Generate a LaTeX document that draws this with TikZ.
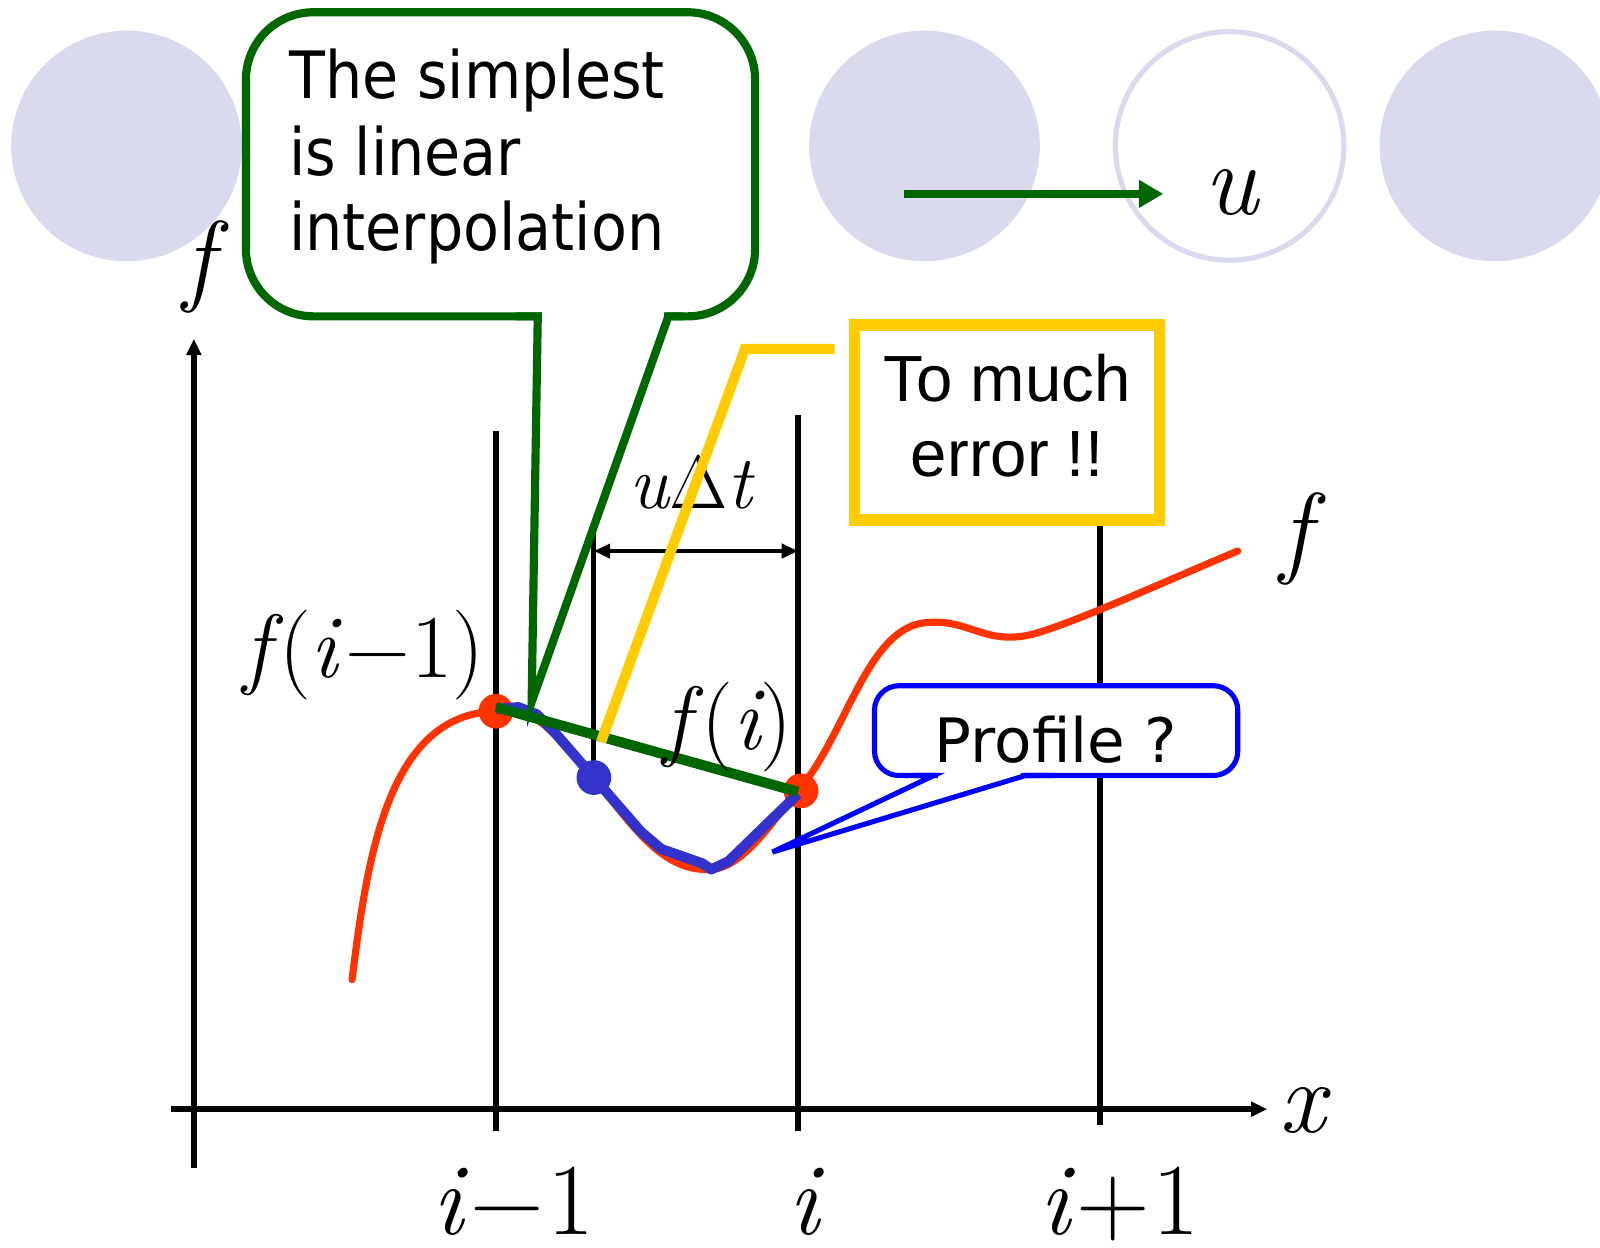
\documentclass[tikz,border=0pt]{standalone}
\usepackage{fontspec}
\newfontfamily\lmr{Latin Modern Roman}
\newfontfamily\tahfont[FakeStretch=0.9]{DejaVu Sans}
\newfontfamily\verfont{DejaVu Sans}
\newfontfamily\arifont{Liberation Sans}
\usetikzlibrary{arrows.meta}
\definecolor{lav}{RGB}{218,218,238}
\definecolor{dgreen}{RGB}{0,102,0}
\definecolor{gold}{RGB}{255,204,0}
\definecolor{redc}{RGB}{255,51,0}
\definecolor{profblue}{RGB}{51,51,204}
\definecolor{callblue}{RGB}{0,0,255}
\newcommand{\vi}[1]{{\itshape #1}}
\begin{document}
\begin{tikzpicture}[x=0.5pt,y=-0.5pt,
  bigmath/.style={font=\lmr\fontsize{50}{60}\selectfont, inner sep=0pt, anchor=base},
  midmath/.style={font=\lmr\fontsize{44}{52}\selectfont, inner sep=0pt, anchor=base west},
  gridline/.style={line width=3pt, black},
  axisline/.style={line width=3.2pt, black, -{Triangle[length=8pt,width=7pt]}},
  greentext/.style={font=\tahfont\fontsize{32}{37}\selectfont, inner sep=0pt, anchor=base west},
  yellowtext/.style={font=\arifont\fontsize{32}{37}\selectfont, inner sep=0pt, anchor=base},
  bluetext/.style={font=\verfont\fontsize{30}{36}\selectfont, inner sep=0pt, anchor=base},
  ]
\clip (0,0) rectangle (1568,1223);
\useasboundingbox (0,0) rectangle (1568,1223);
\fill[white] (0,0) rectangle (1568,1223);

% background circles
\fill[lav] (124,143) circle[radius=56.5pt];
\fill[lav] (906,143) circle[radius=56.5pt];
\draw[lav, line width=2.5pt, fill=white] (1205,143) circle[radius=56pt];
\fill[lav] (1465,143) circle[radius=56.5pt];

% velocity arrow
\coordinate (ua) at (886,190);
\coordinate (ub) at (1140,190);
\draw[dgreen, line width=4pt, -{Triangle[length=12pt,width=13pt]}] (ua) -- (ub);
\node[bigmath] (ulab) at (1207,210) {\vi{u}};

% grid lines
\coordinate (g1t) at (486,422); \coordinate (g1b) at (486,1108);
\coordinate (g2t) at (782,407); \coordinate (g2b) at (782,1108);
\coordinate (g3t) at (1078,515); \coordinate (g3b) at (1078,1102);
\coordinate (g4t) at (582,516); \coordinate (g4b) at (582,762);
\draw[gridline] (g1t) -- (g1b);
\draw[gridline] (g2t) -- (g2b);
\draw[gridline] (g3t) -- (g3b);
\draw[black, line width=2.5pt] (g4t) -- (g4b);

% axes
\coordinate (yb) at (190,1145); \coordinate (yt) at (190,332);
\coordinate (xl) at (168,1087); \coordinate (xr) at (1242,1087);
\draw[axisline] (yb) -- (yt);
\draw[axisline] (xl) -- (xr);
\node[bigmath] (flab) at (195,287) {\vi{f}};
\node[bigmath] (xlab) at (1276,1110) {\vi{x}};
\node[bigmath] (fright) at (1270,553) {\vi{f}};

% dimension arrow
\coordinate (da) at (582,540); \coordinate (db) at (782,540);
\draw[line width=1.8pt, {Triangle[length=8pt,width=7pt]}-{Triangle[length=8pt,width=7pt]}] (da) -- (db);
\node[font=\lmr\fontsize{37}{44}\selectfont, inner sep=0pt, anchor=base] (udt) at (677,498) {\vi{u}Δ\vi{t}};

% red curve
\draw[redc, line width=3.5pt, line cap=round]
  (345,960) .. controls (360,840) and (380,700) .. (486,697)
  .. controls (530,690) and (550,730) .. (582,762)
  .. controls (620,810) and (650,855) .. (697,852)
  .. controls (730,850) and (760,800) .. (782,775)
  .. controls (830,720) and (850,612) .. (910,610)
  .. controls (950,607) and (965,632) .. (1010,622)
  .. controls (1050,612) and (1150,566) .. (1213,540);
\fill[redc] (486,697) circle[radius=8.5pt];
\fill[redc] (785,775) circle[radius=8.5pt];

% blue profile
\draw[profblue, line width=5pt, line join=round]
  (486,695) -- (508,693) -- (526,700) -- (542,716) -- (582,762) -- (628,815)
  -- (648,832) -- (688,846) -- (697,852) -- (714,844) -- (782,778);
\fill[profblue] (582,762) circle[radius=8.5pt];

% green linear interpolation
\coordinate (la) at (486,693); \coordinate (lb) at (782,776);
\draw[dgreen, line width=5pt] (la) -- (lb);

% labels f(i-1), f(i)
\node[midmath] (fim1) at (238,664) {\vi{f}\hspace{0.1em}(\vi{i}\hspace{0.08em}−\hspace{0.02em}1)};
\node[midmath] (fi) at (650,734) {\vi{f}\hspace{0.12em}(\vi{i})};

% bottom labels
\node[bigmath] (lim1) at (503,1210) {\vi{i}\hspace{0.08em}−\hspace{0.03em}1};
\node[bigmath] (li) at (788,1210) {\vi{i}};
\node[bigmath] (lip1) at (1097,1210) {\vi{i}\hspace{0.06em}+\hspace{0.02em}1};

% green callout
\draw[dgreen, line width=4pt, fill=white, rounded corners=33pt] (241,12) rectangle (740,310);
\fill[white] (531,301) rectangle (651,319);
\coordinate (gtip) at (521,688);
\draw[dgreen, line width=4pt] (505,310) -- (527,310) -- (gtip) -- (655,310) -- (670,310);
\node[greentext] (gt1) at (283,97) {The simplest};
\node[greentext] (gt2) at (283,172) {is linear};
\node[greentext] (gt3) at (283,245) {interpolation};

% yellow callout
\draw[gold, line width=5.5pt, fill=white] (837.5,318.5) rectangle (1136.5,509.5);
\node[yellowtext] (yt1) at (987,393) {To much};
\node[yellowtext] (yt2) at (987,467) {error !!};
\coordinate (ytip) at (589,727);
\draw[gold, line width=5pt] (818,342) -- (730,342) -- (ytip);

% blue callout
\draw[callblue, line width=2.5pt, fill=white, rounded corners=12pt] (857,672) rectangle (1213,760);
\fill[white] (919,754) rectangle (1001,766);
\coordinate (btip) at (757,835);
\draw[callblue, line width=2.5pt] (895,760) -- (915,760) -- (btip) -- (1005,760) -- (1030,760);
\node[bluetext] (bt) at (1035,747) {Profile ?};
\end{tikzpicture}
\end{document}
